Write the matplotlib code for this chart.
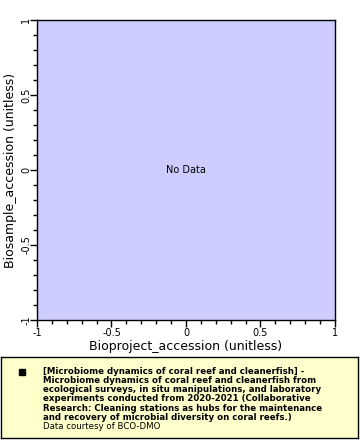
import matplotlib
matplotlib.use("Agg")
import matplotlib.pyplot as plt
from matplotlib.ticker import MultipleLocator

x_range = [-1, 1]
y_range = [-1, 1]
major_ticks = [-1, -0.5, 0, 0.5, 1]
tick_labels = ["-1", "-0.5", "0", "0.5", "1"]
x_label = "Bioproject_accession (unitless)"
y_label = "Biosample_accession (unitless)"
legend_title = ("[Microbiome dynamics of coral reef and cleanerfish] -\n"
                "Microbiome dynamics of coral reef and cleanerfish from\n"
                "ecological surveys, in situ manipulations, and laboratory\n"
                "experiments conducted from 2020-2021 (Collaborative\n"
                "Research: Cleaning stations as hubs for the maintenance\n"
                "and recovery of microbial diversity on coral reefs.)")
courtesy = "Data courtesy of BCO-DMO"

fig = plt.figure(figsize=(3.6, 4.4), dpi=100)
W, H = 360, 440
ax = fig.add_axes([37 / W, 1 - 320 / H, 298 / W, 300 / H])
ax.set_facecolor("#ccccff")
ax.set_xlim(*x_range)
ax.set_ylim(*y_range)
ax.set_xticks(major_ticks)
ax.set_xticklabels(tick_labels)
ax.set_yticks(major_ticks)
ax.set_yticklabels(tick_labels, rotation=90, va="center")
ax.xaxis.set_minor_locator(MultipleLocator(0.1))
ax.yaxis.set_minor_locator(MultipleLocator(0.1))
ax.tick_params(which="major", length=5, width=1, labelsize=7)
ax.tick_params(axis="x", which="major", pad=1)
ax.tick_params(axis="y", which="major", pad=-1)
ax.tick_params(which="minor", length=3, width=1)
for s in ax.spines.values():
    s.set_linewidth(1)
ax.set_xlabel(x_label, fontsize=9, labelpad=1)
ax.set_ylabel(y_label, fontsize=9, labelpad=3)
ax.text(0.5, 0.5, "No Data", transform=ax.transAxes, ha="center", va="center", fontsize=7)

# legend box
lg = fig.add_axes([1 / W, 1 - 438 / H, 357 / W, 81 / H])
lg.set_xlim(0, 357)
lg.set_ylim(81, 0)
lg.set_facecolor("#ffffcc")
lg.set_xticks([])
lg.set_yticks([])
for s in lg.spines.values():
    s.set_linewidth(1)
lg.plot([21], [15], marker="s", color="black", markersize=4)
lg.text(42, 10, legend_title, fontsize=6.2, fontweight="bold", va="top", ha="left",
        linespacing=1.02)
lg.text(42, 64.5, courtesy, fontsize=6.2, va="top", ha="left")

fig.savefig("out.png", dpi=100)
